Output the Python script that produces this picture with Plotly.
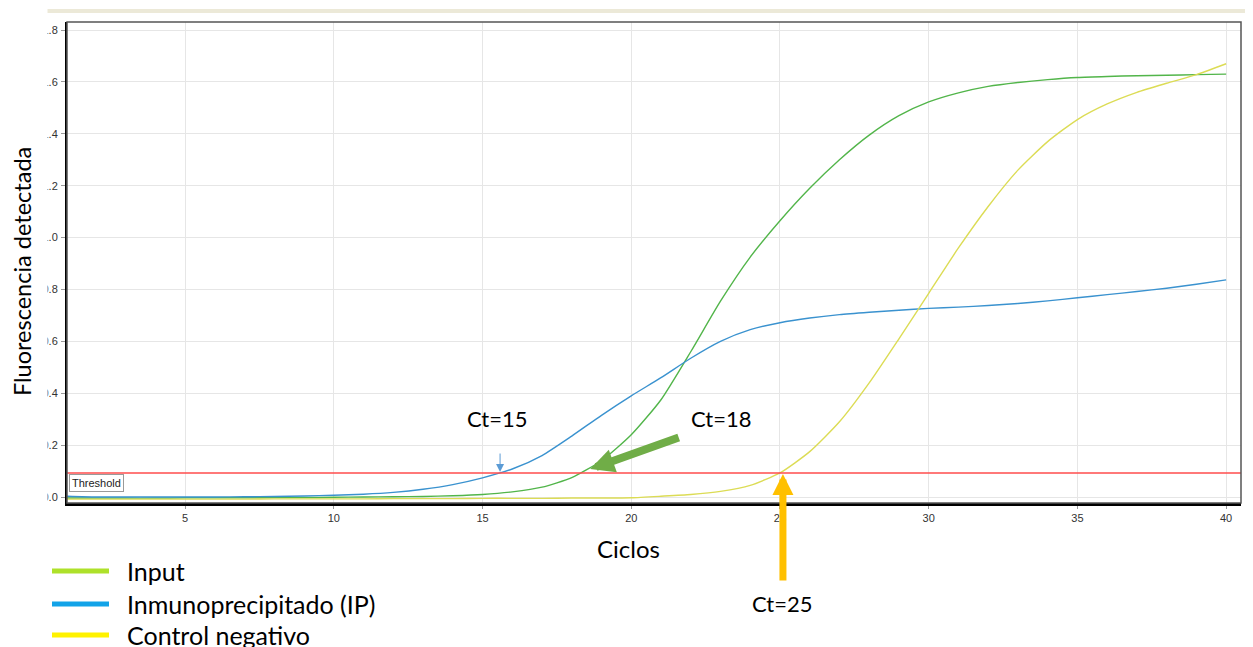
import plotly.graph_objects as go

# ---------------- data ----------------
cycles = list(range(1, 41))

input_vals = [-0.004, -0.004, -0.004, -0.004, -0.003, -0.003, -0.003, -0.002, -0.002, -0.001,
              0.0, 0.001, 0.002, 0.005, 0.010, 0.020, 0.038, 0.075, 0.140, 0.240,
              0.375, 0.560, 0.755, 0.925, 1.065, 1.190, 1.300, 1.395, 1.470, 1.523,
              1.558, 1.583, 1.598, 1.609, 1.617, 1.621, 1.624, 1.626, 1.628, 1.630]

ip_vals = [0.003, 0.000, 0.000, 0.000, 0.000, 0.000, 0.001, 0.002, 0.004, 0.007,
           0.011, 0.018, 0.030, 0.048, 0.074, 0.108, 0.160, 0.235, 0.315, 0.390,
           0.460, 0.535, 0.600, 0.645, 0.672, 0.690, 0.703, 0.712, 0.720, 0.727,
           0.732, 0.738, 0.746, 0.756, 0.768, 0.780, 0.792, 0.805, 0.820, 0.837]

control_vals = [-0.008, -0.008, -0.008, -0.008, -0.008, -0.008, -0.008, -0.007, -0.007, -0.007,
                -0.007, -0.006, -0.006, -0.006, -0.005, -0.005, -0.005, -0.004, -0.004, -0.003,
                0.003, 0.010, 0.022, 0.045, 0.093, 0.175, 0.290, 0.440, 0.610, 0.785,
                0.960, 1.120, 1.260, 1.370, 1.455, 1.515, 1.560, 1.595, 1.628, 1.670]

threshold = 0.0925

series_names = ["Input", "Inmunoprecipitado (IP)", "Control negativo"]
curve_colors = ["#52B54A", "#3A92CF", "#DCDC55"]
legend_colors = ["#AEE12A", "#12A3E8", "#FFF200"]

x_tick_vals = [5, 10, 15, 20, 25, 30, 35, 40]
x_tick_text = ["5", "10", "15", "20", "25", "30", "35", "40"]
y_tick_vals = [0.0, 0.2, 0.4, 0.6, 0.8, 1.0, 1.2, 1.4, 1.6, 1.8]
y_tick_text = ["0.0", "0.2", "0.4", "0.6", "0.8", "1.0", "1.2", "1.4", "1.6", "1.8"]

ct_labels = ["Ct=15", "Ct=18", "Ct=25"]
ct_values = [15.59, 18.62, 25.1]

# ---------------- figure ----------------
fig = go.Figure()
for name, vals, col in zip(series_names, [input_vals, ip_vals, control_vals], curve_colors):
    fig.add_trace(go.Scatter(x=cycles, y=vals, mode="lines", name=name,
                             line=dict(color=col, width=1.4, shape="spline", smoothing=0.6),
                             hoverinfo="x+y+name"))

# page has an 8px body margin: figure coordinates = page coordinates - 8
W, H = 1245, 639
ML, MR, MT, MB = 59, 12, 14, 144
PW, PH = W - ML - MR, H - MT - MB
PLOT_LEFT_PAGE, PLOT_BOTTOM_PAGE = 67, 503

def px(xpage):
    return (xpage - PLOT_LEFT_PAGE) / PW

def py(ypage):
    return (PLOT_BOTTOM_PAGE - ypage) / PH

shapes = []
# threshold line
shapes.append(dict(type="line", xref="paper", yref="y", x0=0, x1=1, y0=threshold, y1=threshold,
                   line=dict(color="#FF4D4D", width=1.5), layer="above"))
# plot frame (top/right)
shapes.append(dict(type="rect", xref="paper", yref="paper", x0=0, x1=1, y0=0, y1=1,
                   line=dict(color="#555555", width=1.5), layer="above"))
# window chrome: top strip and right strip
shapes.append(dict(type="rect", xref="paper", yref="paper", x0=px(47), x1=px(1253), y0=py(13), y1=py(9),
                   fillcolor="#ECE9D8", line=dict(width=0), layer="above"))
shapes.append(dict(type="rect", xref="paper", yref="paper", x0=px(1246), x1=px(1253), y0=py(540), y1=py(9),
                   fillcolor="#ECE9D8", line=dict(color="#C8C5B8", width=1), layer="above"))
# cropped left edge of the screenshot
shapes.append(dict(type="rect", xref="paper", yref="paper", x0=px(0), x1=px(47.5), y0=py(545), y1=py(0),
                   fillcolor="white", line=dict(width=0), layer="above"))
# legend lines
legend_y = [571, 604, 635]
for i, col in enumerate(legend_colors):
    shapes.append(dict(type="line", xref="paper", yref="paper", x0=px(52), x1=px(109),
                       y0=py(legend_y[i]), y1=py(legend_y[i]), line=dict(color=col, width=5), layer="above"))

FONT_BIG = "Lato, Open Sans, sans-serif"
annotations = []
# legend text
for i, name in enumerate(series_names):
    annotations.append(dict(xref="paper", yref="paper", x=px(125), y=py(legend_y[i]), xanchor="left",
                            yanchor="middle", text=name, showarrow=False,
                            font=dict(family=FONT_BIG, size=25, color="black")))
# axis titles
annotations.append(dict(xref="paper", yref="paper", x=px(628), y=py(548), xanchor="center", yanchor="middle",
                        text="Ciclos", showarrow=False, font=dict(family=FONT_BIG, size=24, color="black")))
annotations.append(dict(xref="paper", yref="paper", x=px(22), y=py(272), xanchor="center", yanchor="middle",
                        text="Fluorescencia detectada", textangle=-90, showarrow=False,
                        font=dict(family=FONT_BIG, size=23.5, color="black")))
# threshold label
annotations.append(dict(xref="paper", yref="y", x=0.0015, y=threshold, xanchor="left", yanchor="top",
                        yshift=-1, text="Threshold", showarrow=False, bgcolor="white",
                        bordercolor="#9A9A9A", borderwidth=1, borderpad=2,
                        font=dict(family="Liberation Sans, Arial", size=11, color="#222")))
# Ct text labels
annotations.append(dict(x=15.49, y=0.3045, xanchor="center", yanchor="middle", text=ct_labels[0],
                        showarrow=False, font=dict(family=FONT_BIG, size=22, color="black")))
annotations.append(dict(x=23.02, y=0.3045, xanchor="center", yanchor="middle", text=ct_labels[1],
                        showarrow=False, font=dict(family=FONT_BIG, size=22, color="black")))
annotations.append(dict(xref="paper", yref="paper", x=px(782), y=py(603), xanchor="center", yanchor="middle",
                        text=ct_labels[2], showarrow=False, font=dict(family=FONT_BIG, size=22, color="black")))
# arrows
annotations.append(dict(x=ct_values[0], y=0.0964, ax=0, ay=-20, text="", showarrow=True,
                        arrowhead=2, arrowsize=1.6, arrowwidth=1, arrowcolor="#5B9BD5"))
annotations.append(dict(x=ct_values[1], y=0.108, ax=90, ay=-32, text="", showarrow=True,
                        arrowhead=2, arrowsize=0.6, arrowwidth=8, arrowcolor="#70AD47"))
annotations.append(dict(x=ct_values[2], y=0.0887, ax=0, ay=108, text="", showarrow=True,
                        arrowhead=2, arrowsize=0.6, arrowwidth=7, arrowcolor="#FFC000"))

tickfont = dict(family="Liberation Sans, Arial", size=11, color="#333")
fig.update_layout(
    width=W, height=H,
    margin=dict(l=ML, r=MR, t=MT, b=MB),
    plot_bgcolor="white", paper_bgcolor="white",
    showlegend=False,
    shapes=shapes, annotations=annotations,
    xaxis=dict(range=[1.03, 40.5], tickvals=x_tick_vals, ticktext=x_tick_text,
               showgrid=True, gridcolor="#E6E6E6", gridwidth=1, zeroline=False,
               showline=True, linecolor="black", linewidth=2.5,
               ticks="outside", ticklen=3, tickcolor="#999", tickfont=tickfont),
    yaxis=dict(range=[-0.023, 1.831], tickvals=y_tick_vals, ticktext=y_tick_text,
               showgrid=True, gridcolor="#E6E6E6", gridwidth=1, zeroline=False,
               showline=True, linecolor="black", linewidth=2,
               ticks="outside", ticklen=4, tickcolor="#999", tickfont=tickfont,
               ticklabelstandoff=1),
)

fig.write_html("out.html")
